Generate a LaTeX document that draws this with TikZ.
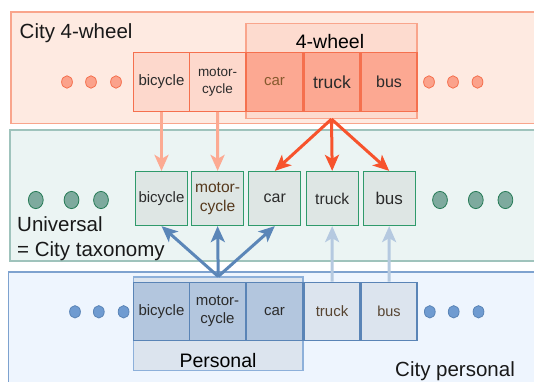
\documentclass[tikz,border=0pt]{standalone}
\usepackage{fontspec}
\setmainfont{Liberation Sans}
\usetikzlibrary{arrows.meta}

\definecolor{peach}{HTML}{FEEAE1}
\definecolor{peachline}{HTML}{F9A58C}
\definecolor{salmon}{HTML}{FDD8CC}
\definecolor{salmondark}{HTML}{FCA892}
\definecolor{redline}{HTML}{F5704E}
\definecolor{redarrow}{HTML}{F7532C}
\definecolor{palesalmon}{HTML}{FCAA92}
\definecolor{mint}{HTML}{EBF4F3}
\definecolor{mintline}{HTML}{9FC3BC}
\definecolor{mintbox}{HTML}{DEE6E4}
\definecolor{greenline}{HTML}{2F9A6B}
\definecolor{greendot}{HTML}{7EAA9E}
\definecolor{sky}{HTML}{EEF5FE}
\definecolor{skyline}{HTML}{7EA2CF}
\definecolor{bluebox}{HTML}{B3C6DE}
\definecolor{paleblue}{HTML}{DCE4EE}
\definecolor{blueline}{HTML}{5A84B6}
\definecolor{bluearrow}{HTML}{5B86B8}
\definecolor{palearrow}{HTML}{B5C9E0}
\definecolor{bluedot}{HTML}{6F9BD1}
\definecolor{groupline}{HTML}{8DB0DA}
\definecolor{ink}{HTML}{2B2B2B}

\newcommand{\fsz}[2]{\fontsize{#1}{#2}\selectfont}

\begin{document}
\begin{tikzpicture}[x=1pt,y=-1pt,
  box/.style={draw,line width=1.2pt,inner sep=0pt,align=center,text=ink,
    minimum width=56pt,minimum height=58.5pt,font=\fsz{15}{18.5}},
  ubox/.style={box,fill=mintbox,draw=greenline,minimum width=52pt,minimum height=54pt},
  group/.style={line width=1.2pt,inner sep=0pt},
  biglabel/.style={inner sep=0pt,text=black!90,font=\fsz{20.5}{25}},
  flow/.style={line width=3pt,-{Stealth[length=16pt,width=14pt,inset=4pt]}}]
  \useasboundingbox (0,0) rectangle (534,381);
  % the three taxonomy slabs
  \draw[fill=peach,draw=peachline,line width=1.5pt] (11,12) rectangle (545,123.5);
  \draw[fill=mint,draw=mintline,line width=1.5pt] (10,130) rectangle (545,261);
  \draw[fill=sky,draw=skyline,line width=1.5pt] (8.5,272) rectangle (545,390);
  \node[biglabel,anchor=base west] (cityfour) at (19.5,38) {City 4-wheel};
  \node[biglabel,anchor=north west,align=left] (universal) at (17,216.5) {Universal\\= City taxonomy};
  \node[biglabel,anchor=base west] (citypers) at (395,376) {City personal};
  % top row, 4-wheel grouping
  \node[group,fill=salmon!85!peach,draw=peachline,minimum width=171pt,minimum height=95pt] (fourwheel) at (331.5,71) {};
  \node[inner sep=0pt,font=\fsz{19.5}{22},anchor=base] (fourlbl) at (330,48.4) {4-wheel};
  \node[box,fill=salmon,draw=redline] (tbike) at (161.5,82) {bicycle};
  \node[box,fill=salmon,draw=redline,font=\fsz{13.5}{16.3}] (tmotor) at (217.5,82) {motor-\\cycle};
  \node[box,fill=salmondark,draw=redline,text=brown!70!black] (tcar) at (274.5,82) {car};
  \node[box,fill=salmondark,draw=redline,font=\fsz{17.5}{20}] (ttruck) at (332,82) {truck};
  \node[box,fill=salmondark,draw=redline,font=\fsz{16}{19}] (tbus) at (389,82) {bus};
  \foreach \x in {67,91,116,429,453,477.5}
    \draw[fill=salmondark!90!redline,draw=redline,line width=0.8pt] (\x,82) ellipse (5.4 and 6.2);
  % universal row
  \node[ubox] (ubike) at (161.5,198.5) {bicycle};
  \node[ubox,text=brown!45!black,font=\fsz{15.6}{18.3}] (umotor) at (217.6,198.5) {motor-\\cycle};
  \node[ubox,font=\fsz{16}{19}] (ucar) at (274.8,198.5) {car};
  \node[ubox,font=\fsz{15.7}{19}] (utruck) at (332.2,198.5) {truck};
  \node[ubox,font=\fsz{17}{19}] (ubus) at (389.2,198.5) {bus};
  \foreach \x in {35.8,71.5,101,440,475.8,505.4}
    \draw[fill=greendot,draw=greenline!80!black,line width=0.8pt] (\x,200) ellipse (7.4 and 8.6);
  % bottom row, personal grouping
  \node[group,fill=paleblue,draw=groupline,minimum width=169.5pt,minimum height=93.5pt] (personal) at (218.2,323.8) {};
  \node[inner sep=0pt,font=\fsz{19.5}{22},anchor=base] (perslbl) at (218,367) {Personal};
  \node[box,fill=bluebox,draw=blueline] (pbike) at (161.5,311.4) {bicycle};
  \node[box,fill=bluebox,draw=blueline] (pmotor) at (217.5,311.4) {motor-\\cycle};
  \node[box,fill=bluebox,draw=blueline] (pcar) at (274.5,311.4) {car};
  \node[box,fill=paleblue,draw=blueline,text=brown!30!ink] (ptruck) at (332,311.4) {truck};
  \node[box,fill=paleblue,draw=blueline,text=brown!30!ink,font=\fsz{14.5}{17}] (pbus) at (389,311.4) {bus};
  \foreach \x in {75,98.8,123.6,429.8,453.7,478.5}
    \draw[fill=bluedot,draw=blueline,line width=0.8pt] (\x,311.8) ellipse (5.4 and 6.2);
  % mappings onto the universal row
  \draw[flow,palesalmon] (tbike.south) -- (ubike.north);
  \draw[flow,palesalmon] (tmotor.south) -- (umotor.north);
  \draw[flow,redarrow] (fourwheel.south) -- (ucar.north);
  \draw[flow,redarrow] (fourwheel.south) -- (utruck.north);
  \draw[flow,redarrow] (fourwheel.south) -- (ubus.north);
  \draw[flow,bluearrow] (personal.north) -- (ubike.south);
  \draw[flow,bluearrow] (personal.north) -- (umotor.south);
  \draw[flow,bluearrow] (personal.north) -- (ucar.south);
  \draw[flow,palearrow] (ptruck.north) -- (utruck.south);
  \draw[flow,palearrow] (pbus.north) -- (ubus.south);
\end{tikzpicture}
\end{document}
